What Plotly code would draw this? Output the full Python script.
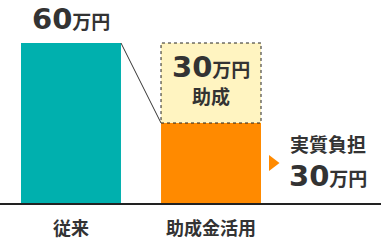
import plotly.graph_objects as go

# ---- data ----
categories = ["従来", "助成金活用"]
conventional_cost = [60]      # 万円
subsidy_amount = [30]         # 万円 (助成)
actual_burden = [30]          # 万円 (実質負担)

TEAL = "#00B0AE"
ORANGE = "#FF8A00"
YELLOW = "#FFF4C1"
TXT = "#333333"
FONT = "DejaVu Sans, Noto Sans CJK JP"
CJK = "Noto Sans CJK JP"
BW = 0.714

fig = go.Figure()
fig.add_bar(x=[0], y=conventional_cost, width=BW, marker=dict(color=TEAL, line=dict(width=0)),
            hoverinfo="skip")
fig.add_bar(x=[1], y=actual_burden, width=BW, marker=dict(color=ORANGE, line=dict(width=0)),
            hoverinfo="skip")
fig.add_bar(x=[1], y=subsidy_amount, base=actual_burden, width=BW,
            marker=dict(color=YELLOW, line=dict(width=0)), hoverinfo="skip")

# arrow marker
fig.add_scatter(x=[1.439], y=[actual_burden[0] / 2], mode="markers",
                marker=dict(symbol="triangle-right", size=14, color=ORANGE, line=dict(width=0)),
                hoverinfo="skip")

top2 = actual_burden[0] + subsidy_amount[0]
fig.add_shape(type="rect", x0=1 - BW / 2, x1=1 + BW / 2, y0=actual_burden[0], y1=top2,
              line=dict(color="#222222", width=1, dash="dot"), fillcolor="rgba(0,0,0,0)", layer="above")
fig.add_shape(type="line", x0=0 + BW / 2, y0=conventional_cost[0], x1=1 - BW / 2, y1=actual_burden[0],
              line=dict(color=TXT, width=1))

def big(v):
    return f"{v}<span style='font-size:19px;font-family:Noto Sans CJK JP'>万円</span>"

ann_font = dict(family=FONT, size=29, color=TXT, weight="bold")
fig.add_annotation(x=0, y=conventional_cost[0], text=big(conventional_cost[0]), showarrow=False,
                   yanchor="bottom", yshift=5, font=ann_font)
fig.add_annotation(x=1, y=actual_burden[0] + subsidy_amount[0] / 2, text=big(subsidy_amount[0]),
                   showarrow=False, yanchor="middle", yshift=16, font=ann_font)
fig.add_annotation(x=1, y=actual_burden[0] + subsidy_amount[0] / 2, text="助成",
                   showarrow=False, yanchor="middle", yshift=-12,
                   font=dict(family=CJK, size=19, color=TXT, weight="bold"))
fig.add_annotation(x=1.836, y=actual_burden[0] / 2, text="実質負担", showarrow=False,
                   yanchor="middle", yshift=20, font=dict(family=CJK, size=19, color=TXT, weight="bold"))
fig.add_annotation(x=1.836, y=actual_burden[0] / 2, text=big(actual_burden[0]), showarrow=False,
                   yanchor="middle", yshift=-13, font=ann_font)

fig.update_layout(
    width=381, height=250,
    margin=dict(l=0, r=0, t=0, b=47),
    paper_bgcolor="white", plot_bgcolor="white",
    barmode="overlay", showlegend=False,
    xaxis=dict(range=[-0.507, 2.214], tickvals=[0, 1], ticktext=categories,
               showgrid=False, zeroline=False, showline=True, linecolor="#222222", linewidth=2,
               ticks="", ticklabelstandoff=8,
               tickfont=dict(family=CJK, size=18, color=TXT, weight="bold"), fixedrange=True),
    yaxis=dict(range=[0, 76.125], visible=False, fixedrange=True),
)

fig.write_html("out.html", config={"displayModeBar": False})
